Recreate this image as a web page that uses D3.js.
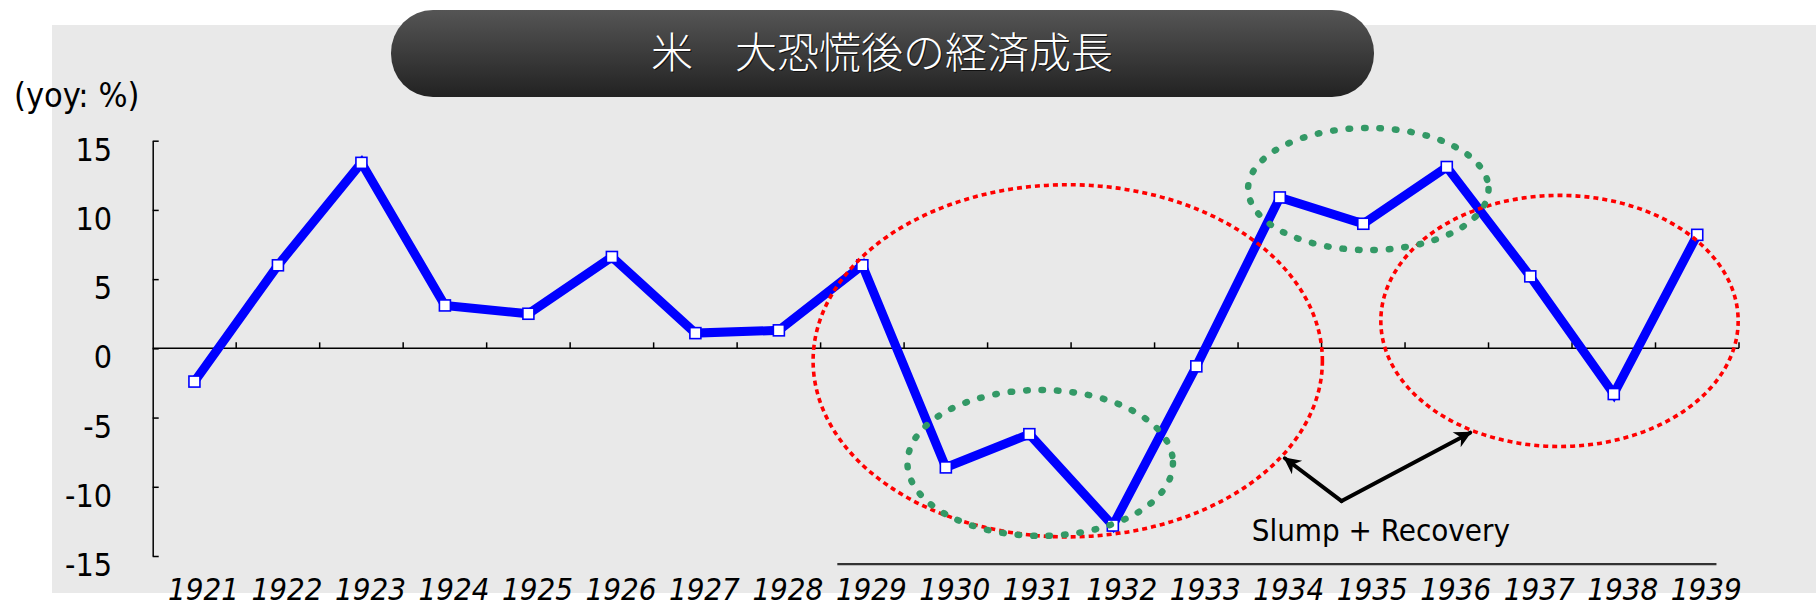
<!DOCTYPE html>
<html>
<head>
<meta charset="utf-8">
<script src="https://cdn.jsdelivr.net/npm/d3@7"></script>
<style>
  html, body { margin: 0; padding: 0; background: #ffffff; }
  svg { display: block; }
  .lat { font-family: "DejaVu Sans Condensed", "DejaVu Sans", sans-serif; font-stretch: condensed; }
</style>
</head>
<body>
<svg id="chart" width="1816" height="608"></svg>
<script>
// US real GDP growth, year over year (%)
const years = ["1921","1922","1923","1924","1925","1926","1927","1928","1929","1930",
               "1931","1932","1933","1934","1935","1936","1937","1938","1939"];
const growth = [-2.4, 6.0, 13.4, 3.1, 2.5, 6.6, 1.1, 1.3, 6.0, -8.6,
                -6.2, -12.8, -1.3, 10.9, 9.0, 13.1, 5.2, -3.3, 8.2];
const yTicks = [-15, -10, -5, 0, 5, 10, 15];

const titleText = "米　大恐慌後の経済成長";
const unitText = "(yoy: %)";
const noteText = "Slump + Recovery";

// Highlight ellipses in data units: centre (year index, value), radii (years, value)
const redRings = [
  { cx: 10.46, cy: -0.9, rx: 3.05, ry: 12.72 },
  { cx: 16.35, cy: 1.98, rx: 2.14, ry: 9.07 }
];
const greenRings = [
  { cx: 10.13, cy: -8.28, rx: 1.59, ry: 5.27 },
  { cx: 14.06, cy: 11.51, rx: 1.44, ry: 4.41 }
];
// Callout arrows: shared origin and two tips (year index, value)
const arrowFrom = { i: 13.74, v: -11.03 };
const arrowTips = [ { i: 13.06, v: -7.94 }, { i: 15.28, v: -6.09 } ];
// Bracket under the callout text, spanning 1929 onwards
const bracket = { i0: 7.70, i1: 18.23, v: -15.58 };
const noteAt = { i: 14.21, v: -13.9 };

const W = 1816, H = 608;
const plot = { left: 152.7, right: 1739, top: 140.7, bottom: 556 };

const svg = d3.select("#chart");

// panel background
svg.append("rect").attr("x", 52).attr("y", 25).attr("width", W - 52).attr("height", 568)
  .attr("fill", "#e9e9e9");

const x = d3.scaleBand().domain(years).range([plot.left, plot.right]).padding(0);
const bw = x.bandwidth();
const y = d3.scaleLinear().domain([-15, 15]).range([plot.bottom, plot.top]);
const xi = d3.scaleLinear().domain([0, years.length - 1])
  .range([x(years[0]) + bw / 2, x(years[years.length - 1]) + bw / 2]);

// title pill
const defs = svg.append("defs");
const grad = defs.append("linearGradient").attr("id", "pillGrad")
  .attr("x1", 0).attr("y1", 0).attr("x2", 0).attr("y2", 1);
grad.append("stop").attr("offset", "0%").attr("stop-color", "#555555");
grad.append("stop").attr("offset", "45%").attr("stop-color", "#3e3e3e");
grad.append("stop").attr("offset", "100%").attr("stop-color", "#222222");

svg.append("rect").attr("x", 391).attr("y", 10).attr("width", 983).attr("height", 87)
  .attr("rx", 42).attr("ry", 43).attr("fill", "url(#pillGrad)");

const tg = svg.append("g").attr("transform", "translate(882,68)");
tg.append("text").attr("x", 1).attr("y", 1).attr("text-anchor", "middle")
  .attr("font-family", "'Noto Sans CJK JP', sans-serif").attr("font-weight", 300)
  .attr("font-size", 42).attr("fill", "#111").text(titleText);
tg.append("text").attr("text-anchor", "middle")
  .attr("font-family", "'Noto Sans CJK JP', sans-serif").attr("font-weight", 300)
  .attr("font-size", 42).attr("fill", "#ffffff").text(titleText);

// unit label
svg.append("text").attr("class", "lat").attr("x", 14).attr("y", 107)
  .attr("font-size", 34).attr("fill", "#000").text(unitText);

// y axis: ticks point into the plot
const yAxis = d3.axisRight(y).tickValues(yTicks).tickSize(6).tickSizeOuter(0).tickFormat("");
const gy = svg.append("g").attr("transform", `translate(${plot.left},0)`).call(yAxis);
gy.select(".domain").attr("stroke", "#000").attr("stroke-width", 1.5);
gy.selectAll(".tick line").attr("stroke", "#000").attr("stroke-width", 1.5);

svg.append("g").selectAll("text").data(yTicks).join("text")
  .attr("class", "lat")
  .attr("x", 112).attr("y", d => y(d) + 20)
  .attr("text-anchor", "end").attr("font-size", 32).attr("fill", "#000")
  .text(d => d);

// x axis along zero, with ticks on the category boundaries
const gx = svg.append("g");
gx.append("line").attr("x1", plot.left).attr("x2", plot.right)
  .attr("y1", y(0)).attr("y2", y(0)).attr("stroke", "#000").attr("stroke-width", 1.5);
const bounds = years.slice(1).map(d => x(d)).concat([x(years[years.length - 1]) + bw]);
gx.selectAll("line.tk").data(bounds).join("line").attr("class", "tk")
  .attr("x1", d => d).attr("x2", d => d)
  .attr("y1", y(0)).attr("y2", y(0) - 6)
  .attr("stroke", "#000").attr("stroke-width", 1.5);

svg.append("g").selectAll("text").data(years).join("text")
  .attr("class", "lat")
  .attr("x", d => x(d) + bw / 2 + 9).attr("y", 600)
  .attr("text-anchor", "middle").attr("font-size", 31).attr("font-style", "italic")
  .attr("fill", "#000").text(d => d);

// growth series
const pts = years.map((d, i) => ({ year: d, v: growth[i] }));
const line = d3.line().x(d => x(d.year) + bw / 2).y(d => y(d.v));
svg.append("path").datum(pts).attr("d", line)
  .attr("fill", "none").attr("stroke", "#0000ff").attr("stroke-width", 9)
  .attr("stroke-linejoin", "miter");

svg.append("g").selectAll("rect").data(pts).join("rect")
  .attr("x", d => x(d.year) + bw / 2 - 5.5).attr("y", d => y(d.v) - 5.5)
  .attr("width", 11).attr("height", 11)
  .attr("fill", "#ffffff").attr("stroke", "#0000ff").attr("stroke-width", 1.6);

// bracket and callout
svg.append("line")
  .attr("x1", xi(bracket.i0)).attr("x2", xi(bracket.i1))
  .attr("y1", y(bracket.v)).attr("y2", y(bracket.v))
  .attr("stroke", "#333333").attr("stroke-width", 2.2);

svg.append("text").attr("class", "lat")
  .attr("x", xi(noteAt.i)).attr("y", y(noteAt.v))
  .attr("text-anchor", "middle").attr("font-size", 31).attr("fill", "#000")
  .text(noteText);

defs.append("marker").attr("id", "head")
  .attr("viewBox", "0 0 10 10").attr("refX", 9).attr("refY", 5)
  .attr("markerUnits", "userSpaceOnUse")
  .attr("markerWidth", 20).attr("markerHeight", 17).attr("orient", "auto")
  .append("path").attr("d", "M0,0 L10,5 L0,10 L3,5 Z").attr("fill", "#000");

svg.append("g").selectAll("line").data(arrowTips).join("line")
  .attr("x1", xi(arrowFrom.i)).attr("y1", y(arrowFrom.v))
  .attr("x2", d => xi(d.i)).attr("y2", d => y(d.v))
  .attr("stroke", "#000").attr("stroke-width", 4)
  .attr("stroke-linecap", "round")
  .attr("marker-end", "url(#head)");

// highlight rings
const kx = xi(1) - xi(0);
const ky = y(0) - y(1);
svg.append("g").selectAll("ellipse").data(redRings).join("ellipse")
  .attr("cx", d => xi(d.cx)).attr("cy", d => y(d.cy))
  .attr("rx", d => d.rx * kx).attr("ry", d => d.ry * ky)
  .attr("fill", "none").attr("stroke", "#ff0000").attr("stroke-width", 3.6)
  .attr("stroke-dasharray", "5 4");

svg.append("g").selectAll("ellipse").data(greenRings).join("ellipse")
  .attr("cx", d => xi(d.cx)).attr("cy", d => y(d.cy))
  .attr("rx", d => d.rx * kx).attr("ry", d => d.ry * ky)
  .attr("fill", "none").attr("stroke", "#339966").attr("stroke-width", 6.5)
  .attr("stroke-linecap", "round")
  .attr("stroke-dasharray", "1.5 14");
</script>
</body>
</html>
